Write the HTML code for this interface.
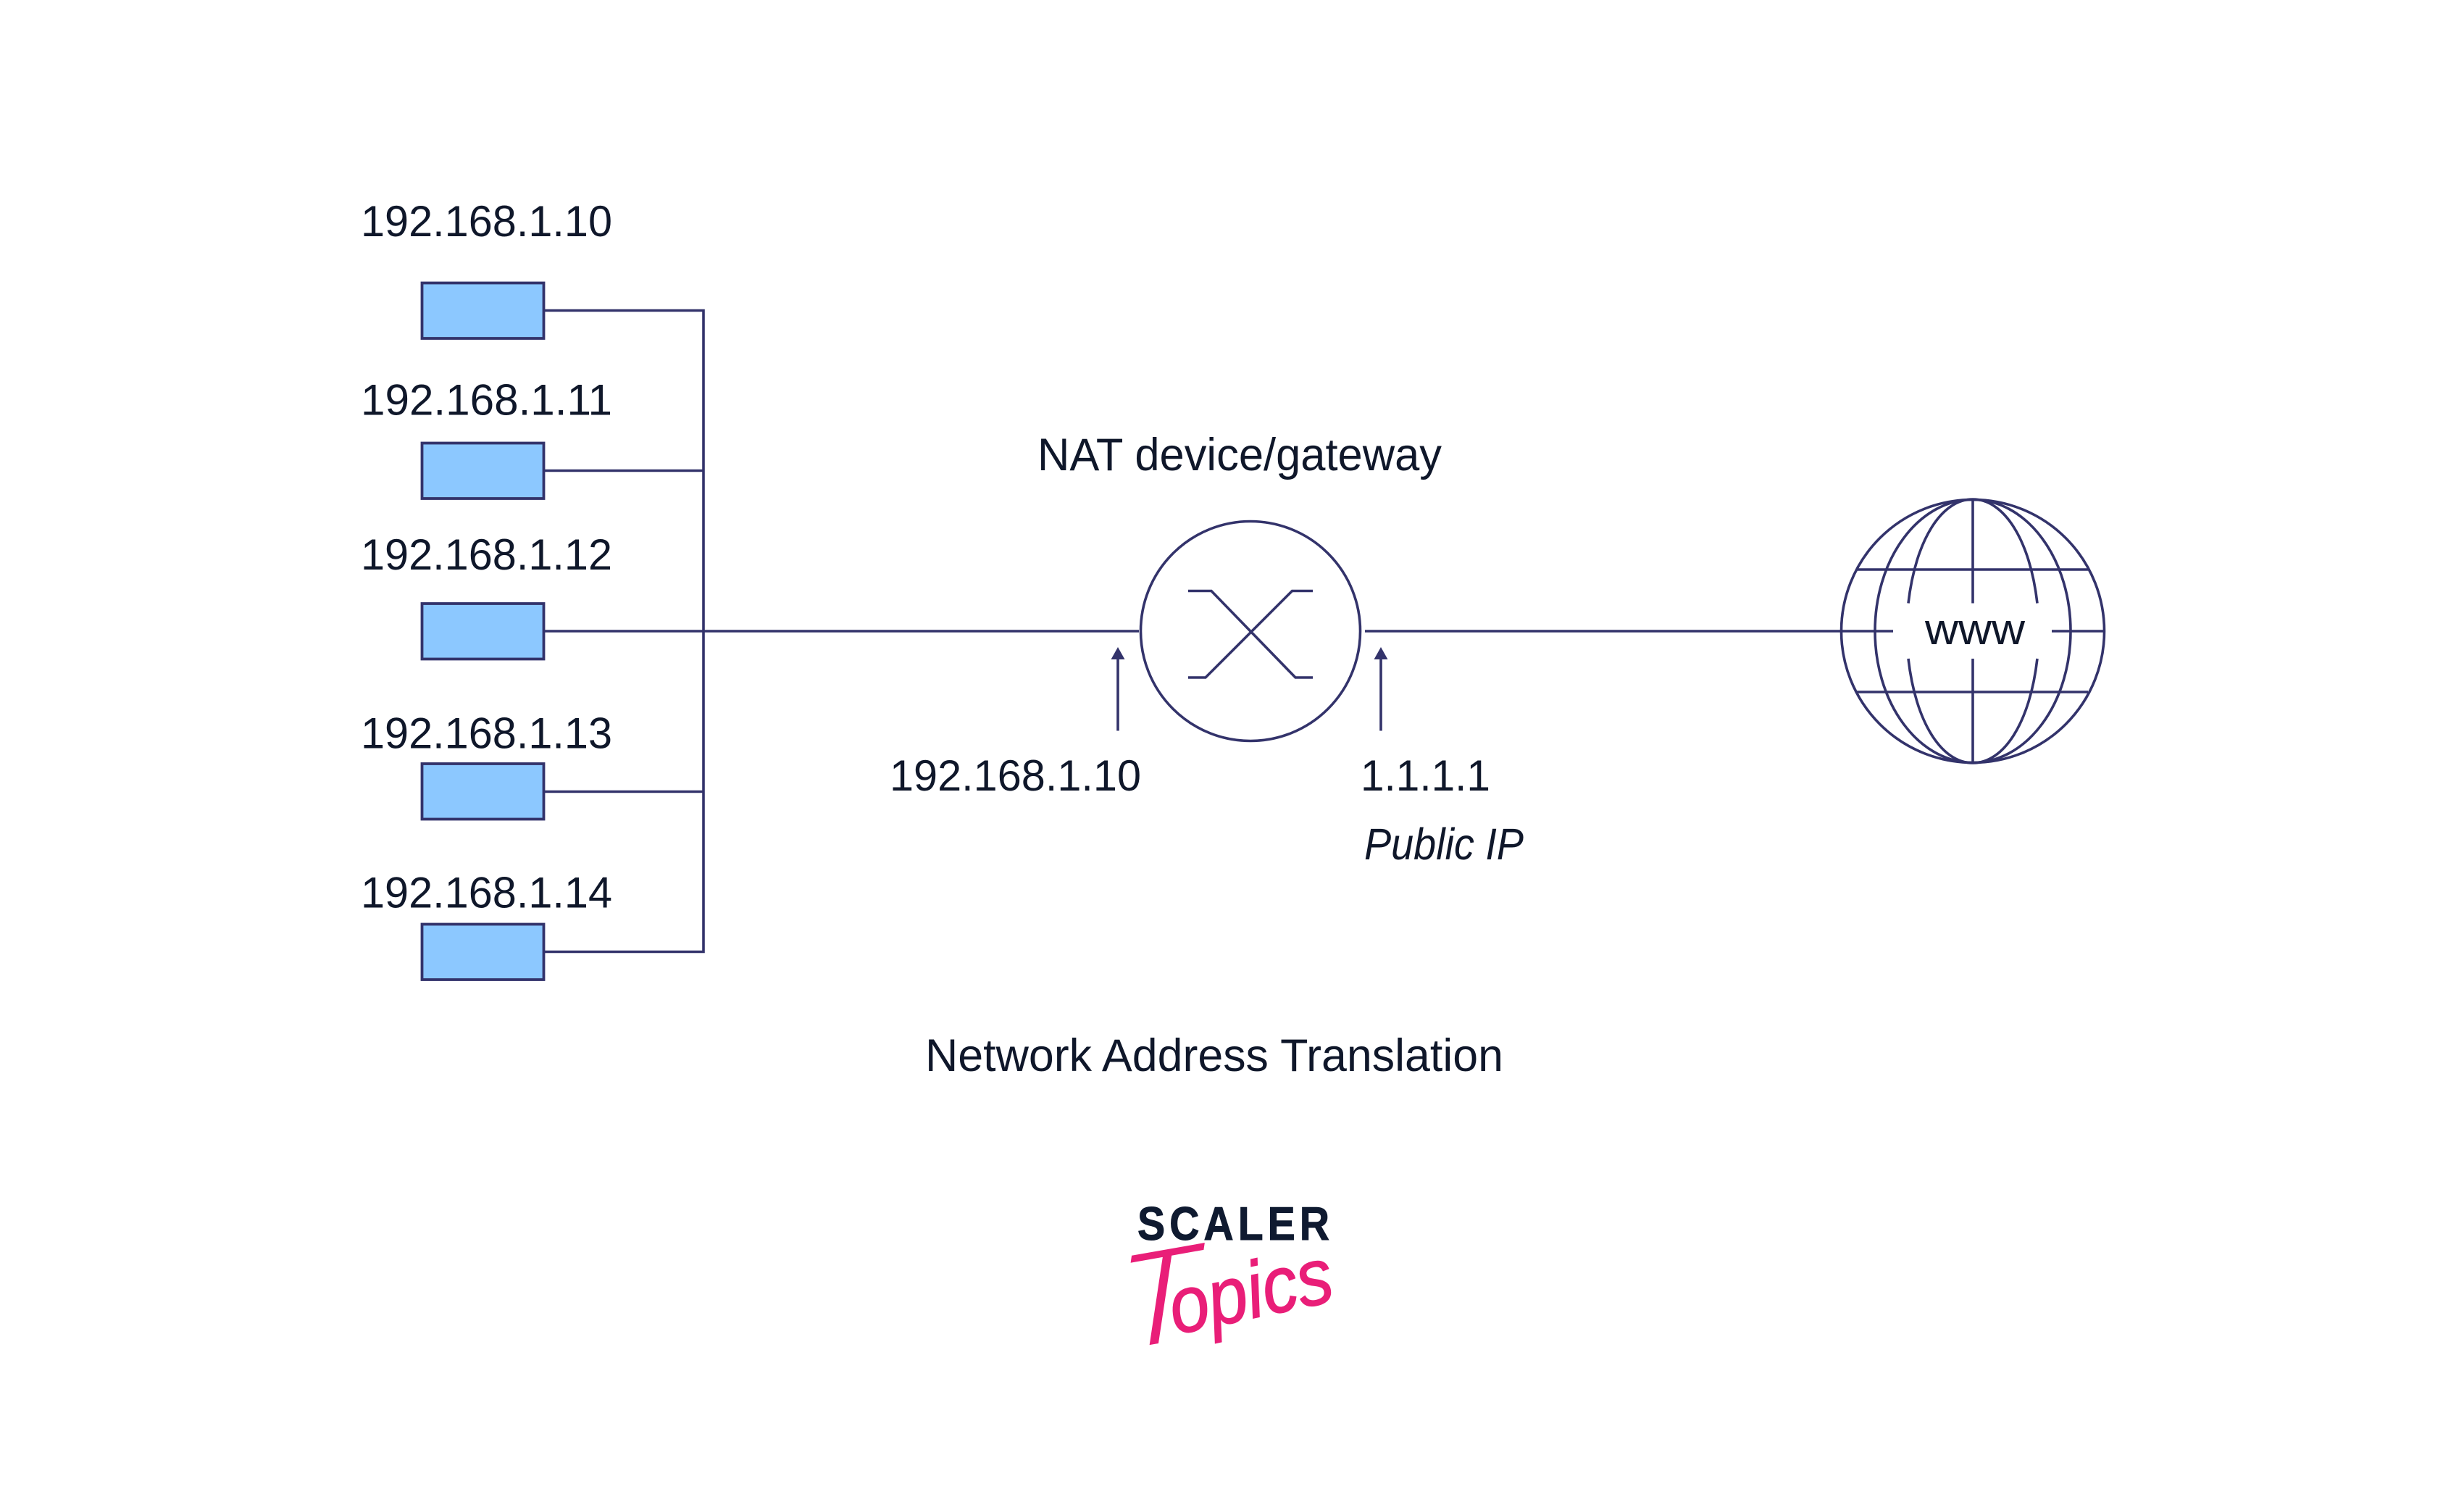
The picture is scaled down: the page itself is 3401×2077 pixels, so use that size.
<!DOCTYPE html>
<html lang="en">
<head>
<meta charset="utf-8">
<title>Network Address Translation</title>
<style>
html,body{margin:0;padding:0;background:#fff;width:3401px;height:2077px;overflow:hidden}
svg{display:block}
text{font-family:"Liberation Sans",sans-serif;fill:#0f172a}
.l{fill:none;stroke:#33336b;stroke-width:3.6}
.r{fill:#8cc8ff;stroke:#33336b;stroke-width:3.8}
.p{font-style:italic;fill:#e91e78;stroke:#e91e78;stroke-width:1.5}
</style>
</head>
<body>
<svg width="3401" height="2077" viewBox="0 0 3401 2077" xmlns="http://www.w3.org/2000/svg">
<rect width="3401" height="2077" fill="#fff"/>

<!-- host boxes -->
<rect class="r" x="582.5" y="390.5" width="168" height="76.5"/>
<rect class="r" x="582.5" y="611.5" width="168" height="76.5"/>
<rect class="r" x="582.5" y="833" width="168" height="76.5"/>
<rect class="r" x="582.5" y="1054" width="168" height="76.5"/>
<rect class="r" x="582.5" y="1275.5" width="168" height="76.5"/>

<!-- bus -->
<path class="l" d="M751 428.5H971V1313.5H751M751 649.5H971M751 1092.5H971M751 871H1572"/>
<path class="l" d="M1884 871H2613M2832 871H2904"/>

<!-- host labels -->
<g font-size="60">
<text x="498" y="326" textLength="347" lengthAdjust="spacingAndGlyphs">192.168.1.10</text>
<text x="498" y="572.5" textLength="347" lengthAdjust="spacingAndGlyphs">192.168.1.11</text>
<text x="498" y="786" textLength="347" lengthAdjust="spacingAndGlyphs">192.168.1.12</text>
<text x="498" y="1032.5" textLength="347" lengthAdjust="spacingAndGlyphs">192.168.1.13</text>
<text x="498" y="1252.5" textLength="347" lengthAdjust="spacingAndGlyphs">192.168.1.14</text>
<text x="1228" y="1091" textLength="347" lengthAdjust="spacingAndGlyphs">192.168.1.10</text>
<text x="1878" y="1091" textLength="179" lengthAdjust="spacingAndGlyphs">1.1.1.1</text>
</g>
<text x="1432" y="649" font-size="63" textLength="558" lengthAdjust="spacingAndGlyphs">NAT device/gateway</text>
<text x="1883" y="1186" font-size="61" font-style="italic" textLength="220" lengthAdjust="spacingAndGlyphs">Public IP</text>
<text x="1277" y="1478" font-size="63" textLength="798" lengthAdjust="spacingAndGlyphs">Network Address Translation</text>

<!-- NAT device -->
<circle class="l" cx="1726" cy="871" r="151.5"/>
<path class="l" stroke-width="3.2" d="M1640 815.5H1672L1788 935H1812M1812 815.5H1783.5L1664 935H1640"/>

<!-- arrows -->
<path class="l" d="M1543 1008.5V905M1906 1008.5V905"/>
<path fill="#33336b" d="M1543 893L1552.5 910H1533.5ZM1906 893L1915.5 910H1896.5Z"/>

<!-- globe -->
<g class="l" fill="none" stroke="#33336b" stroke-width="3.6">
<circle cx="2723" cy="871" r="181.5"/>
<ellipse cx="2723" cy="871" rx="135" ry="181.5"/>
<path d="M2634 832.5C2644 745 2680 689 2723 689C2766 689 2802 745 2812 832.5"/>
<path d="M2634 909C2644 997 2680 1053 2723 1053C2766 1053 2802 997 2812 909"/>
<path d="M2723 689V832.5M2723 909V1053M2563 786H2882M2563 955H2882"/>
</g>
<text x="2657" y="889" font-size="60" textLength="138" lengthAdjust="spacingAndGlyphs">www</text>

<!-- logo -->
<text transform="translate(1545 1866) rotate(-10) skewX(-8)" font-size="190" font-style="italic" style="fill:#e91e78;stroke:#fff;stroke-width:5">T</text>
<text transform="translate(1570 1711) scale(.88 1)" font-size="65" font-weight="700" letter-spacing="6.8" style="fill:#0f1a30" stroke="#0f1a30" stroke-width="1">SCALER</text>
<text class="p" transform="translate(1622 1842) rotate(-12)" font-size="110" textLength="228" lengthAdjust="spacingAndGlyphs">opics</text>
</svg>
</body>
</html>
